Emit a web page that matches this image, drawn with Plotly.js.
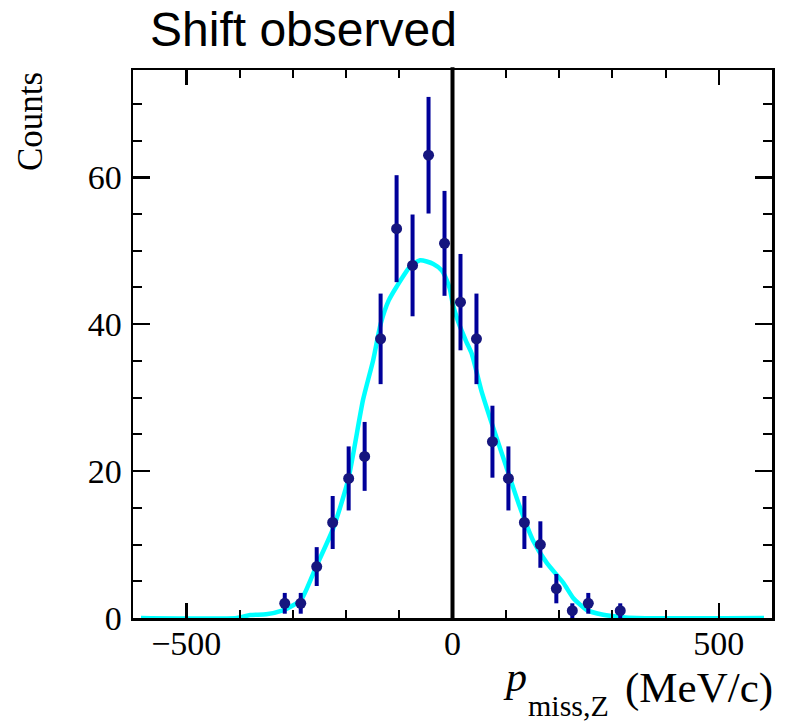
<!DOCTYPE html>
<html>
<head>
<meta charset="utf-8">
<script src="https://cdn.plot.ly/plotly-3.0.1.min.js"></script>
<style>
html,body{margin:0;padding:0;background:#fff;}
#chart{width:786px;height:721px;}
</style>
</head>
<body>
<div id="chart"></div>
<script>
// Data points (histogram bin centres, MeV/c) and counts
const binCenters = [-315, -285, -255, -225, -195, -165, -135, -105, -75, -45, -15, 15, 45, 75, 105, 135, 165, 195, 225, 255, 285, 315];
const counts     = [2, 2, 7, 13, 19, 22, 38, 53, 48, 63, 51, 43, 38, 24, 19, 13, 10, 4, 1, 2, 0, 1];

// Smooth model curve (cyan)
const curveX = [-585, -405, -380, -350, -320, -300, -284, -256, -224, -196, -168, -149, -135, -120, -105, -80, -61, -36, -20, -12, -5, 1, 14, 26, 36, 54, 76, 101, 126, 151, 177, 208, 227, 252, 283, 314, 346, 585];
const curveY = [0, 0, 0.4, 0.5, 1.0, 1.7, 2.5, 7, 12.2, 18.8, 29.7, 35.1, 40, 43.2, 45.1, 47.8, 48.7, 48.2, 47.3, 46.2, 44.8, 42.6, 39.7, 37.6, 36, 31, 26, 20.6, 15.2, 10.6, 7.5, 4.8, 2.7, 1.1, 0.45, 0.15, 0, 0];

const xTickVals = [-500, 0, 500];
const xTickText = ['\u2212500', '0', '500'];
const yTickVals = [0, 20, 40, 60];

const titleText = 'Shift observed';
const yTitle = 'Counts';
const xTitleVar = '<i>p</i>';
const xTitleSub = 'miss,Z';
const xTitleUnit = '(MeV/c)';

const ptsY = counts.map(c => c > 0 ? c : null);
const errs = counts.map(c => Math.sqrt(c));

const serif = 'Liberation Serif, Times New Roman, serif';
const sans = 'Liberation Sans, Arial, sans-serif';

const traces = [
  {
    x: curveX, y: curveY, type: 'scatter', mode: 'lines',
    line: {color: '#00ffff', width: 4.5, shape: 'spline', smoothing: 0.6},
    hoverinfo: 'skip'
  },
  {
    x: binCenters, y: ptsY, type: 'scatter', mode: 'markers',
    marker: {color: '#16167f', size: 11},
    error_y: {type: 'data', array: errs, visible: true, color: '#00009a', thickness: 4, width: 0}
  }
];

const axisCommon = {
  showgrid: false, zeroline: false,
  showline: true, linecolor: '#000', linewidth: 2.5, mirror: 'allticks',
  ticks: 'inside', tickcolor: '#000', tickwidth: 2.5,
  tickfont: {family: serif, size: 34, color: '#000'}
};

// pixel helpers for annotation placement (plot area: l=133, t=70, w=639, h=548)
const PL = 133, PW = 639, PT = 70, PH = 548;
const px = v => (v - PL) / PW;
const py = v => (PT + PH - v) / PH;

const layout = {
  width: 786, height: 721,
  margin: {l: PL, r: 786 - PL - PW, t: PT, b: 721 - PT - PH, pad: 0},
  paper_bgcolor: '#fff', plot_bgcolor: '#fff',
  showlegend: false,
  title: {
    text: titleText,
    font: {family: sans, size: 48, color: '#000'},
    xref: 'container', x: 150/786, xanchor: 'left',
    yref: 'container', y: 1 - 29/721, yanchor: 'middle'
  },
  xaxis: Object.assign({}, axisCommon, {
    range: [-600, 600],
    tickmode: 'array', tickvals: xTickVals, ticktext: xTickText,
    ticklen: 15,
    ticklabelstandoff: -6,
    minor: {dtick: 100, tick0: 0, ticks: 'inside', ticklen: 8, tickwidth: 2, tickcolor: '#000', showgrid: false}
  }),
  yaxis: Object.assign({}, axisCommon, {
    range: [0, 74.6],
    tickmode: 'array', tickvals: yTickVals,
    ticklen: 17,
    ticklabelstandoff: 2,
    minor: {dtick: 5, tick0: 0, ticks: 'inside', ticklen: 9, tickwidth: 2, tickcolor: '#000', showgrid: false}
  }),
  shapes: [
    {type: 'line', xref: 'x', yref: 'paper', x0: 0, x1: 0, y0: 0, y1: 1.005, line: {color: '#000', width: 4}}
  ],
  annotations: [
    {
      text: yTitle, textangle: -90, showarrow: false,
      font: {family: serif, size: 35, color: '#000'},
      xref: 'paper', x: px(52), xanchor: 'right',
      yref: 'paper', y: 1, yanchor: 'top'
    },
    {
      text: xTitleUnit, showarrow: false,
      font: {family: serif, size: 43, color: '#000'},
      xref: 'paper', x: px(775), xanchor: 'right',
      yref: 'paper', y: py(688), yanchor: 'middle'
    },
    {
      text: xTitleSub, showarrow: false,
      font: {family: serif, size: 30, color: '#000'},
      xref: 'paper', x: px(611), xanchor: 'right',
      yref: 'paper', y: py(705), yanchor: 'middle'
    },
    {
      text: xTitleVar, showarrow: false,
      font: {family: serif, size: 42, color: '#000'},
      xref: 'paper', x: px(529), xanchor: 'right',
      yref: 'paper', y: py(677), yanchor: 'middle'
    }
  ]
};

Plotly.newPlot('chart', traces, layout, {displayModeBar: false, staticPlot: true});
</script>
</body>
</html>
